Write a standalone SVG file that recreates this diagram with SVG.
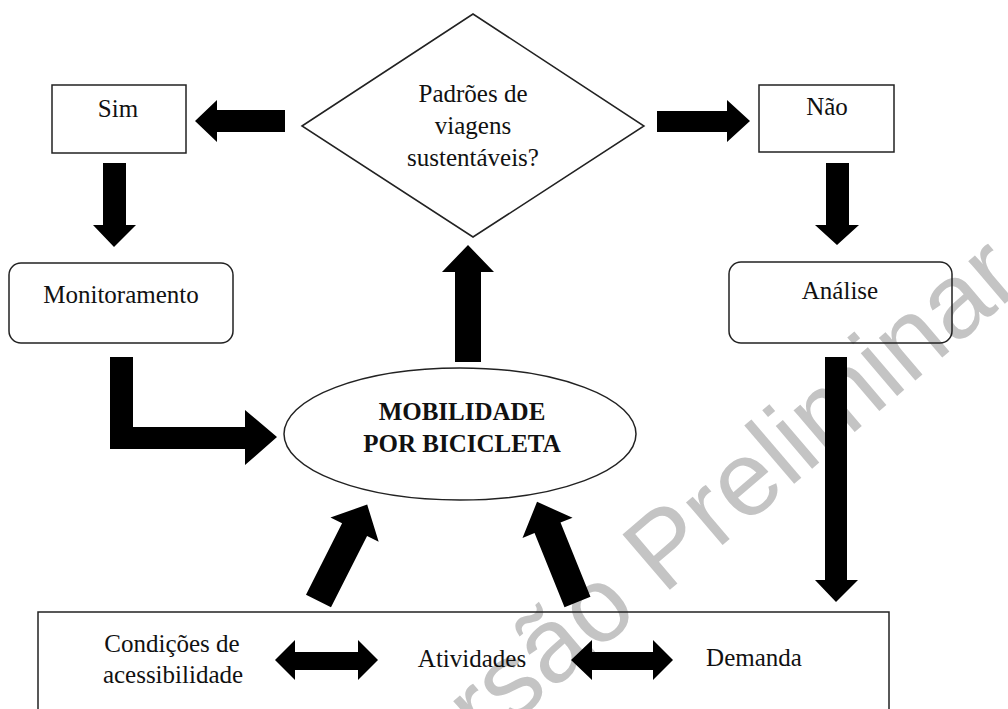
<svg xmlns="http://www.w3.org/2000/svg" width="1008" height="709" viewBox="0 0 1008 709">
<style>
.box{fill:none;stroke:#222;stroke-width:1.5}
.t{font-family:"Liberation Serif","Times New Roman",serif;font-size:25px;fill:#111;text-anchor:middle}
.b{font-weight:bold}
.arr{fill:#000}
.wm{font-family:"Liberation Sans",Arial,sans-serif;font-size:106px;fill:#c4c4c4}
</style>
<defs>
<polygon id="diag" points="0,-14 80,-14 80,-27 108,0 80,27 80,14 0,14"/>
</defs>
<rect width="1008" height="709" fill="#fff"/>
<text class="wm" x="390" y="829" transform="rotate(-40.5 390 829)">Versão Preliminar</text>
<g id="node-decisao">
<polygon class="box" points="302,126 473,14 644,126 473,237"/>
<text class="t" x="473" y="102">Padrões de</text>
<text class="t" x="473" y="134">viagens</text>
<text class="t" x="473" y="166">sustentáveis?</text>
</g>
<g id="node-sim">
<rect class="box" x="52" y="85" width="134" height="68"/>
<text class="t" x="118" y="117">Sim</text>
</g>
<g id="node-nao">
<rect class="box" x="759" y="85" width="135" height="67"/>
<text class="t" x="827" y="115">Não</text>
</g>
<g id="node-monitoramento">
<rect class="box" x="9" y="263" width="224" height="80" rx="12"/>
<text class="t" x="121" y="303">Monitoramento</text>
</g>
<g id="node-analise">
<rect class="box" x="729" y="262" width="223" height="81" rx="12"/>
<text class="t" x="840" y="299">Análise</text>
</g>
<g id="node-mobilidade">
<ellipse class="box" cx="460" cy="434" rx="176" ry="66"/>
<text class="t b" x="462" y="420">MOBILIDADE</text>
<text class="t b" x="462" y="452">POR BICICLETA</text>
</g>
<g id="node-base">
<rect class="box" x="38" y="612" width="851" height="110"/>
<text class="t" x="172" y="652">Condições de</text>
<text class="t" x="173" y="683">acessibilidade</text>
<text class="t" x="472" y="667">Atividades</text>
<text class="t" x="754" y="666">Demanda</text>
</g>
<g id="connectors" class="arr">
<polygon points="195,121 217,100 217,110 285,110 285,132 217,132 217,142"/>
<polygon points="750,121 727,100 727,111 657,111 657,132 727,132 727,142"/>
<polygon points="103,163 126,163 126,225 136,225 114,247 93,225 103,225"/>
<polygon points="826,163 849,163 849,225 859,225 837,245 815,225 826,225"/>
<polygon points="455,362 481,362 481,272 494,272 468,245 442,272 455,272"/>
<polygon points="825,357 847,357 847,580 858,580 836,602 815,580 825,580"/>
<polygon points="110,357 133,357 133,427 245,427 245,410 277,437 245,465 245,449 110,449"/>
<use href="#diag" transform="translate(318.5 601) rotate(-63.2)"/>
<use href="#diag" transform="translate(577.5 602) rotate(-112)"/>
<polygon points="275,660 295,640 295,652 358,652 358,640 378,660 358,680 358,670 295,670 295,680"/>
<polygon points="571,660 592,640 592,652 653,652 653,640 673,660 653,680 653,670 592,670 592,680"/>
</g>
</svg>
